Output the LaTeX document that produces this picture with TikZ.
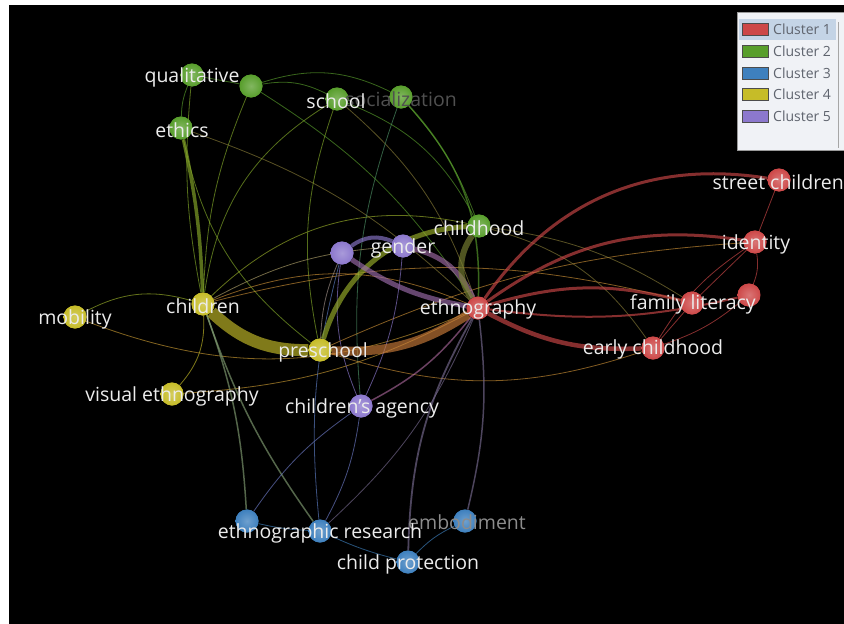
\documentclass[tikz,border=0pt]{standalone}
\usepackage{fontspec}
\setmainfont{Open Sans}
\definecolor{cA}{RGB}{205,72,72}
\definecolor{cB}{RGB}{88,158,44}
\definecolor{cC}{RGB}{62,128,190}
\definecolor{cD}{RGB}{198,188,40}
\definecolor{cE}{RGB}{140,120,205}
\definecolor{lbl}{RGB}{236,236,236}
\definecolor{dimA}{RGB}{80,80,80}
\definecolor{dimB}{RGB}{140,140,140}
\definecolor{legbg}{RGB}{240,242,246}
\definecolor{legsel}{RGB}{196,212,230}
\definecolor{legtx}{RGB}{95,100,110}
\begin{document}
\begin{tikzpicture}[x=1pt,y=-1pt,
  nd/.style={circle,minimum size=23pt,inner sep=0pt,draw=none,fill opacity=0.92},
  lb/.style={text=lbl,font=\fontsize{19.5}{22}\selectfont,inner sep=0pt},
  ed/.style={draw opacity=0.65,line width=0.8pt},
  sw/.style={draw=black!70,line width=0.6pt,minimum width=26pt,minimum height=12pt,inner sep=0pt},
  lt/.style={text=legtx,font=\fontsize{14}{16}\selectfont,anchor=west,inner sep=0pt}]
\useasboundingbox (0,0) rectangle (844,624);
\fill[white] (0,0) rectangle (844,624);
\fill[black] (9,5) rectangle (844,624);

% ---- nodes ----
% cluster 1 (red)
\node[nd,fill=cA] (ethno) at (478,308) {};
\node[nd,fill=cA] (street) at (779,180) {};
\node[nd,fill=cA] (ident) at (755,242) {};
\node[nd,fill=cA] (redu) at (749,295) {};
\node[nd,fill=cA] (famlit) at (692,303) {};
\node[nd,fill=cA] (early) at (653,348) {};
% cluster 2 (green)
\node[nd,fill=cB] (qual) at (192,75) {};
\node[nd,fill=cB] (greenu) at (251,86) {};
\node[nd,fill=cB] (ethics) at (181,128) {};
\node[nd,fill=cB] (school) at (337,99) {};
\node[nd,fill=cB] (social) at (401,97) {};
\node[nd,fill=cB] (child) at (479,226) {};
% cluster 3 (blue)
\node[nd,fill=cC] (blueu) at (247,521) {};
\node[nd,fill=cC] (ethres) at (320,531) {};
\node[nd,fill=cC] (embod) at (465,521) {};
\node[nd,fill=cC] (prot) at (408,562) {};
% cluster 4 (yellow)
\node[nd,fill=cD] (mob) at (75,317) {};
\node[nd,fill=cD] (children) at (203,304) {};
\node[nd,fill=cD] (pres) at (320,350) {};
\node[nd,fill=cD] (visual) at (172,394) {};
% cluster 5 (purple)
\node[nd,fill=cE] (pu) at (342,253) {};
\node[nd,fill=cE] (gender) at (403,246) {};
\node[nd,fill=cE] (agency) at (361,406) {};

% thin edges
\draw[ed,draw=cB] (greenu) to[bend left=18] (school);
\draw[ed,draw=cB] (greenu) to[bend left=22] (social);
\draw[ed,draw=cB] (greenu) to[bend left=12] (ethno);
\draw[ed,draw=cB!60!cD] (greenu) to[bend right=10] (children);
\draw[ed,draw=cB] (greenu) -- (qual);
\draw[ed,draw=cB!60!cD] (qual) to[bend right=8] (children);
\draw[ed,draw=cB] (qual) to[bend right=10] (ethics);
\draw[ed,draw=cB!60!cA] (ethics) to[bend left=12] (ethno);
\draw[ed,draw=cB!60!cD] (ethics) to[bend right=20] (pres);
\draw[ed,draw=cB!60!cA] (school) to[bend left=15] (ethno);
\draw[ed,draw=cB!60!cD] (school) to[bend right=15] (pres);
\draw[ed,draw=cB!60!cD] (school) to[bend right=25] (children);
\draw[ed,draw=cB] (school) to[bend left=20] (child);
\draw[ed,draw=cB,line width=1.5pt] (social) to[bend left=22] (ethno);
\draw[ed,draw=cB] (social) to[bend left=10] (child);
\draw[ed,draw=cB!60!cC] (social) to[bend right=12] (agency);
\draw[ed,draw=cD!60!cB] (mob) to[bend left=22] (children);
\draw[ed,draw=cD!70!cA] (mob) to[bend right=22] (ethno);
\draw[ed,draw=cD] (visual) to[bend right=22] (children);
\draw[ed,draw=cD!70!cA] (visual) to[bend right=12] (ethno);
\draw[ed,draw=cD!60!cB] (children) to[bend left=28] (child);
\draw[ed,draw=cD!60!cA] (children) to[bend left=22] (ethno);
\draw[ed,draw=cD!60!cA] (children) to[bend left=14] (famlit);
\draw[ed,draw=cD!60!cE] (children) to[bend left=12] (gender);
\draw[ed,draw=cD!50!cC,line width=1.5pt] (children) to[bend right=8] (ethres);
\draw[ed,draw=cD!50!cC,line width=1.5pt] (children) to[bend left=8] (blueu);
\draw[ed,draw=cD!60!cA] (pres) to[bend right=18] (early);
\draw[ed,draw=cD!60!cA] (pres) to[bend left=10] (ident);
\draw[ed,draw=cE] (pu) to[bend right=15] (agency);
\draw[ed,draw=cE] (gender) to[bend left=10] (agency);
\draw[ed,draw=cE!60!cD] (pu) to[bend right=10] (pres);
\draw[ed,draw=cE!60!cA,line width=1.5pt] (agency) to[bend right=12] (ethno);
\draw[ed,draw=cE!60!cC] (agency) to[bend left=10] (ethres);
\draw[ed,draw=cE!60!cC] (agency) to[bend right=10] (blueu);
\draw[ed,draw=cC!60!cE] (pu) to[bend right=10] (ethres);
\draw[ed,draw=cC] (blueu) to[bend right=5] (ethres);
\draw[ed,draw=cC] (ethres) to[bend right=5] (prot);
\draw[ed,draw=cC] (prot) to[bend left=10] (embod);
\draw[ed,draw=cC!60!cA] (ethres) to[bend right=12] (ethno);
\draw[ed,draw=cC!60!cA,line width=1.8pt] (prot) to[bend left=14] (ethno);
\draw[ed,draw=cC!60!cA,line width=1.5pt] (embod) to[bend right=10] (ethno);
\draw[ed,draw=cA] (famlit) -- (ident);
\draw[ed,draw=cA] (ident) -- (street);
\draw[ed,draw=cA] (ident) to[bend left=15] (redu);
\draw[ed,draw=cA] (early) -- (famlit);
\draw[ed,draw=cA] (early) to[bend right=10] (redu);
\draw[ed,draw=cA] (early) to[bend left=12] (ident);
\draw[ed,draw=cB!60!cA] (child) to[bend left=12] (famlit);
\draw[ed,draw=cB!60!cA] (child) to[bend left=20] (early);

% thick edges
\draw[ed,line width=3.5pt,draw=cB!55!cD] (ethics) to[bend left=5] (children);
\draw[ed,line width=3pt,draw=cA] (ethno) to[bend left=32] (street);
\draw[ed,line width=3pt,draw=cA] (ethno) to[bend left=22] (ident);
\draw[ed,line width=3pt,draw=cA] (ethno) to[bend left=15] (famlit);
\draw[ed,line width=2pt,draw=cA] (ethno) to[bend right=10] (redu);
\draw[ed,line width=4.5pt,draw=cA] (ethno) to[bend right=15] (early);
\draw[ed,line width=5pt,draw=cD!60!cB] (pres) to[bend left=35] (child);
\draw[ed,line width=4pt,draw=cE] (pu) to[bend left=30] (gender);
\draw[ed,line width=5pt,draw=cE!75!cA] (pu) to[bend right=12] (ethno);
\draw[ed,line width=5pt,draw=cE!70!cA] (gender) to[bend left=25] (ethno);
\draw[ed,line width=6pt,draw=cB!70!cA] (child) to[bend right=35] (ethno);
\draw[ed,line width=9pt,draw=cD!45!cA] (pres) to[bend right=18] (ethno);
\draw[ed,line width=12pt,draw=cD] (children) to[bend right=22] (pres);

% redraw nodes on top
\foreach \n/\c in {ethno/cA,street/cA,ident/cA,redu/cA,famlit/cA,early/cA,
  qual/cB,greenu/cB,ethics/cB,school/cB,social/cB,child/cB,
  blueu/cC,ethres/cC,embod/cC,prot/cC,
  mob/cD,children/cD,pres/cD,visual/cD,
  pu/cE,gender/cE,agency/cE}
  \shade[inner color=\c!75!white,outer color=\c] (\n) circle (11.5pt);

% ---- labels ----
\node[lb,text=dimA] (socialL) at (401,99) {socialization};
\node[lb,text=dimB] (embodL) at (467,522) {embodiment};
\node[lb] (qualL) at (192,77) {qualitative};
\node[lb] (ethicsL) at (182,130) {ethics};
\node[lb] (schoolL) at (336,101) {school};
\node[lb] (childL) at (479,228) {childhood};
\node[lb] (ethnoL) at (478,309) {ethnography};
\node[lb,anchor=east] (streetL) at (844,182) {street children};
\node[lb] (identL) at (756,244) {identity};
\node[lb] (famlitL) at (693,304) {family literacy};
\node[lb] (earlyL) at (653,349) {early childhood};
\node[lb] (mobL) at (75,319) {mobility};
\node[lb] (childrenL) at (203,306) {children};
\node[lb] (presL) at (323,352) {preschool};
\node[lb] (visualL) at (172,396) {visual ethnography};
\node[lb] (genderL) at (403,248) {gender};
\node[lb] (agencyL) at (362,408) {children's agency};
\node[lb] (ethresL) at (320,533) {ethnographic research};
\node[lb] (protL) at (408,564) {child protection};

% ---- legend ----
\fill[legbg] (737,12) rectangle (844,150);
\draw[black!40] (737,12) rectangle (844,150);
\fill[legsel] (739,19) rectangle (836,40);
\draw[black!35] (838,22) -- (838,148);
\node[sw,fill=cA] (s1) at (755,29) {};
\node[sw,fill=cB] (s2) at (755,51) {};
\node[sw,fill=cC] (s3) at (755,73) {};
\node[sw,fill=cD] (s4) at (755,94) {};
\node[sw,fill=cE] (s5) at (755,116) {};
\node[lt] (t1) at (773,29) {Cluster 1};
\node[lt] (t2) at (773,51) {Cluster 2};
\node[lt] (t3) at (773,73) {Cluster 3};
\node[lt] (t4) at (773,94) {Cluster 4};
\node[lt] (t5) at (773,116) {Cluster 5};
\end{tikzpicture}
\end{document}
